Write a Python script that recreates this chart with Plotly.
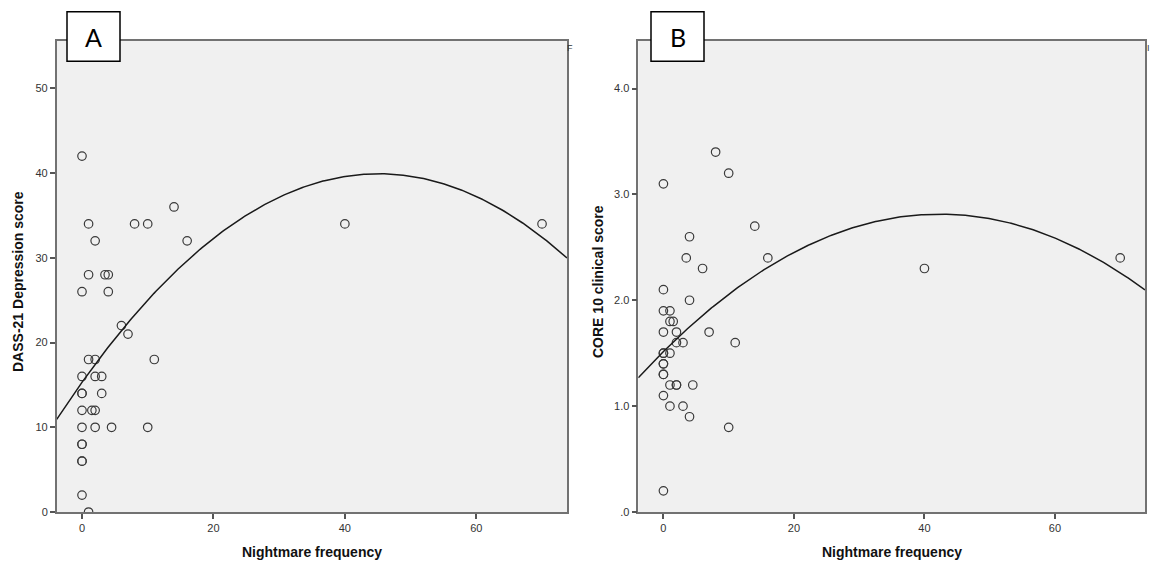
import numpy as np
import plotly.graph_objects as go

# ---------------- data ----------------
# Panel A: nightmare frequency vs DASS-21 depression score
a_x = [0, 1, 2, 1, 0, 3.5, 4, 4, 8, 10, 14, 16, 6, 7, 11, 1, 2, 0, 2, 3,
       0, 0, 3, 0, 1.5, 2, 0, 2, 4.5, 10, 0, 0, 0, 0, 0, 1, 40, 70]
a_y = [42, 34, 32, 28, 26, 28, 28, 26, 34, 34, 36, 32, 22, 21, 18, 18, 18, 16, 16, 16,
       14, 14, 14, 12, 12, 12, 10, 10, 10, 10, 8, 8, 6, 6, 2, 0, 34, 34]

# Panel B: nightmare frequency vs CORE 10 clinical score
b_x = [8, 10, 0, 14, 4, 3.5, 16, 6, 0, 4, 0, 1, 1, 1.5, 0, 2, 7, 2, 3, 11,
       0, 0, 1, 0, 0, 0, 0, 1, 2, 2, 4.5, 0, 1, 3, 4, 10, 0, 40, 70]
b_y = [3.4, 3.2, 3.1, 2.7, 2.6, 2.4, 2.4, 2.3, 2.1, 2.0, 1.9, 1.9, 1.8, 1.8, 1.7, 1.7, 1.7, 1.6, 1.6, 1.6,
       1.5, 1.5, 1.5, 1.4, 1.4, 1.3, 1.3, 1.2, 1.2, 1.2, 1.2, 1.1, 1.0, 1.0, 0.9, 0.8, 0.2, 2.3, 2.4]

x_ticks = [0, 20, 40, 60]
a_yticks = [0, 10, 20, 30, 40, 50]
a_yticktext = ["0", "10", "20", "30", "40", "50"]
b_yticks = [0, 1, 2, 3, 4]
b_yticktext = [".0", "1.0", "2.0", "3.0", "4.0"]

x_title = "Nightmare frequency"
a_ytitle = "DASS-21 Depression score"
b_ytitle = "CORE 10 clinical score"
panel_labels = ["A", "B"]

# ---------------- layout helpers ----------------
W, H = 1152, 569
def px(x):
    return x / W
def py(y):
    return 1 - y / H

X_RANGE = [-3.85, 73.8]
A_YRANGE = [0, 55.6]
B_YRANGE = [0, 4.45]

top_px, bot_px = 41.3, 517.5
A_left, A_right = 56.7, 567.0
B_left, B_right = 638.3, 1145.0

fig = go.Figure()

point_style = dict(mode="markers", showlegend=False, hoverinfo="skip",
                   marker=dict(symbol="circle-open", size=8.5, color="#3a3a3a",
                               line=dict(width=1.2, color="#3a3a3a")))

# quadratic fits
xs = np.linspace(X_RANGE[0], X_RANGE[1], 300)
ca = np.polyfit(a_x, a_y, 2)
cb = np.polyfit(b_x, b_y, 2)

fig.add_trace(go.Scatter(x=a_x, y=a_y, xaxis="x", yaxis="y", **point_style))
fig.add_trace(go.Scatter(x=xs, y=np.polyval(ca, xs), xaxis="x", yaxis="y", mode="lines",
                         line=dict(color="#1a1a1a", width=1.5), showlegend=False, hoverinfo="skip"))
fig.add_trace(go.Scatter(x=b_x, y=b_y, xaxis="x2", yaxis="y2", **point_style))
fig.add_trace(go.Scatter(x=xs, y=np.polyval(cb, xs), xaxis="x2", yaxis="y2", mode="lines",
                         line=dict(color="#1a1a1a", width=1.5), showlegend=False, hoverinfo="skip"))

tickfont = dict(family="Liberation Sans, Arial, sans-serif", size=11, color="#333333")
axis_common = dict(showgrid=False, zeroline=False, showline=True, linecolor="#727272",
                   linewidth=1.5, mirror=True, ticks="outside", ticklen=5, tickwidth=1.5,
                   tickcolor="#555555", tickfont=tickfont)

fig.update_layout(
    width=W, height=H,
    margin=dict(l=0, r=0, t=0, b=0),
    paper_bgcolor="white",
    plot_bgcolor="#f0f0f0",
    xaxis=dict(domain=[px(A_left), px(A_right)], range=X_RANGE, tickvals=x_ticks,
               anchor="y", **axis_common),
    yaxis=dict(domain=[py(bot_px), py(top_px)], range=A_YRANGE, tickvals=a_yticks,
               ticktext=a_yticktext, anchor="x", **axis_common),
    xaxis2=dict(domain=[px(B_left), px(B_right)], range=X_RANGE, tickvals=x_ticks,
                anchor="y2", **axis_common),
    yaxis2=dict(domain=[py(bot_px), py(top_px)], range=B_YRANGE, tickvals=b_yticks,
                ticktext=b_yticktext, anchor="x2", **axis_common),
)

title_font = dict(family="Liberation Sans, Arial, sans-serif", size=14, color="#111111")
anns = []
for left, right in [(A_left, A_right), (B_left, B_right)]:
    anns.append(dict(x=px((left + right) / 2), y=py(558), xref="paper", yref="paper",
                     text="<b>" + x_title + "</b>", showarrow=False, font=title_font,
                     xanchor="center", yanchor="middle"))
anns.append(dict(x=px(18), y=py(285), xref="paper", yref="paper", text="<b>" + a_ytitle + "</b>",
                 showarrow=False, font=title_font, textangle=-90, xanchor="center", yanchor="middle"))
anns.append(dict(x=px(598), y=py(285), xref="paper", yref="paper", text="<b>" + b_ytitle + "</b>",
                 showarrow=False, font=title_font, textangle=-90, xanchor="center", yanchor="middle"))

# panel label boxes
shapes = []
boxes = [(67, 120), (651, 704)]
for (x0, x1), lab in zip(boxes, panel_labels):
    shapes.append(dict(type="rect", xref="paper", yref="paper", x0=px(x0), x1=px(x1),
                       y0=py(62), y1=py(12), fillcolor="white",
                       line=dict(color="black", width=1.5), layer="above"))
    anns.append(dict(x=px((x0 + x1) / 2), y=py(37.5), xref="paper", yref="paper", text=lab,
                     showarrow=False, font=dict(family="Lato, Open Sans, sans-serif", size=25, color="black"),
                     xanchor="center", yanchor="middle"))

# cut-off text fragments at the top-right of each panel
anns.append(dict(x=px(570), y=py(49), xref="paper", yref="paper", text="F", showarrow=False,
                 font=dict(family="Liberation Sans, Arial, sans-serif", size=9, color="#333333"),
                 xanchor="center", yanchor="middle"))
anns.append(dict(x=px(1148), y=py(49), xref="paper", yref="paper", text="I", showarrow=False,
                 font=dict(family="Liberation Sans, Arial, sans-serif", size=9, color="#333333"),
                 xanchor="center", yanchor="middle"))

fig.update_layout(annotations=anns, shapes=shapes)

fig.write_html("out.html")
